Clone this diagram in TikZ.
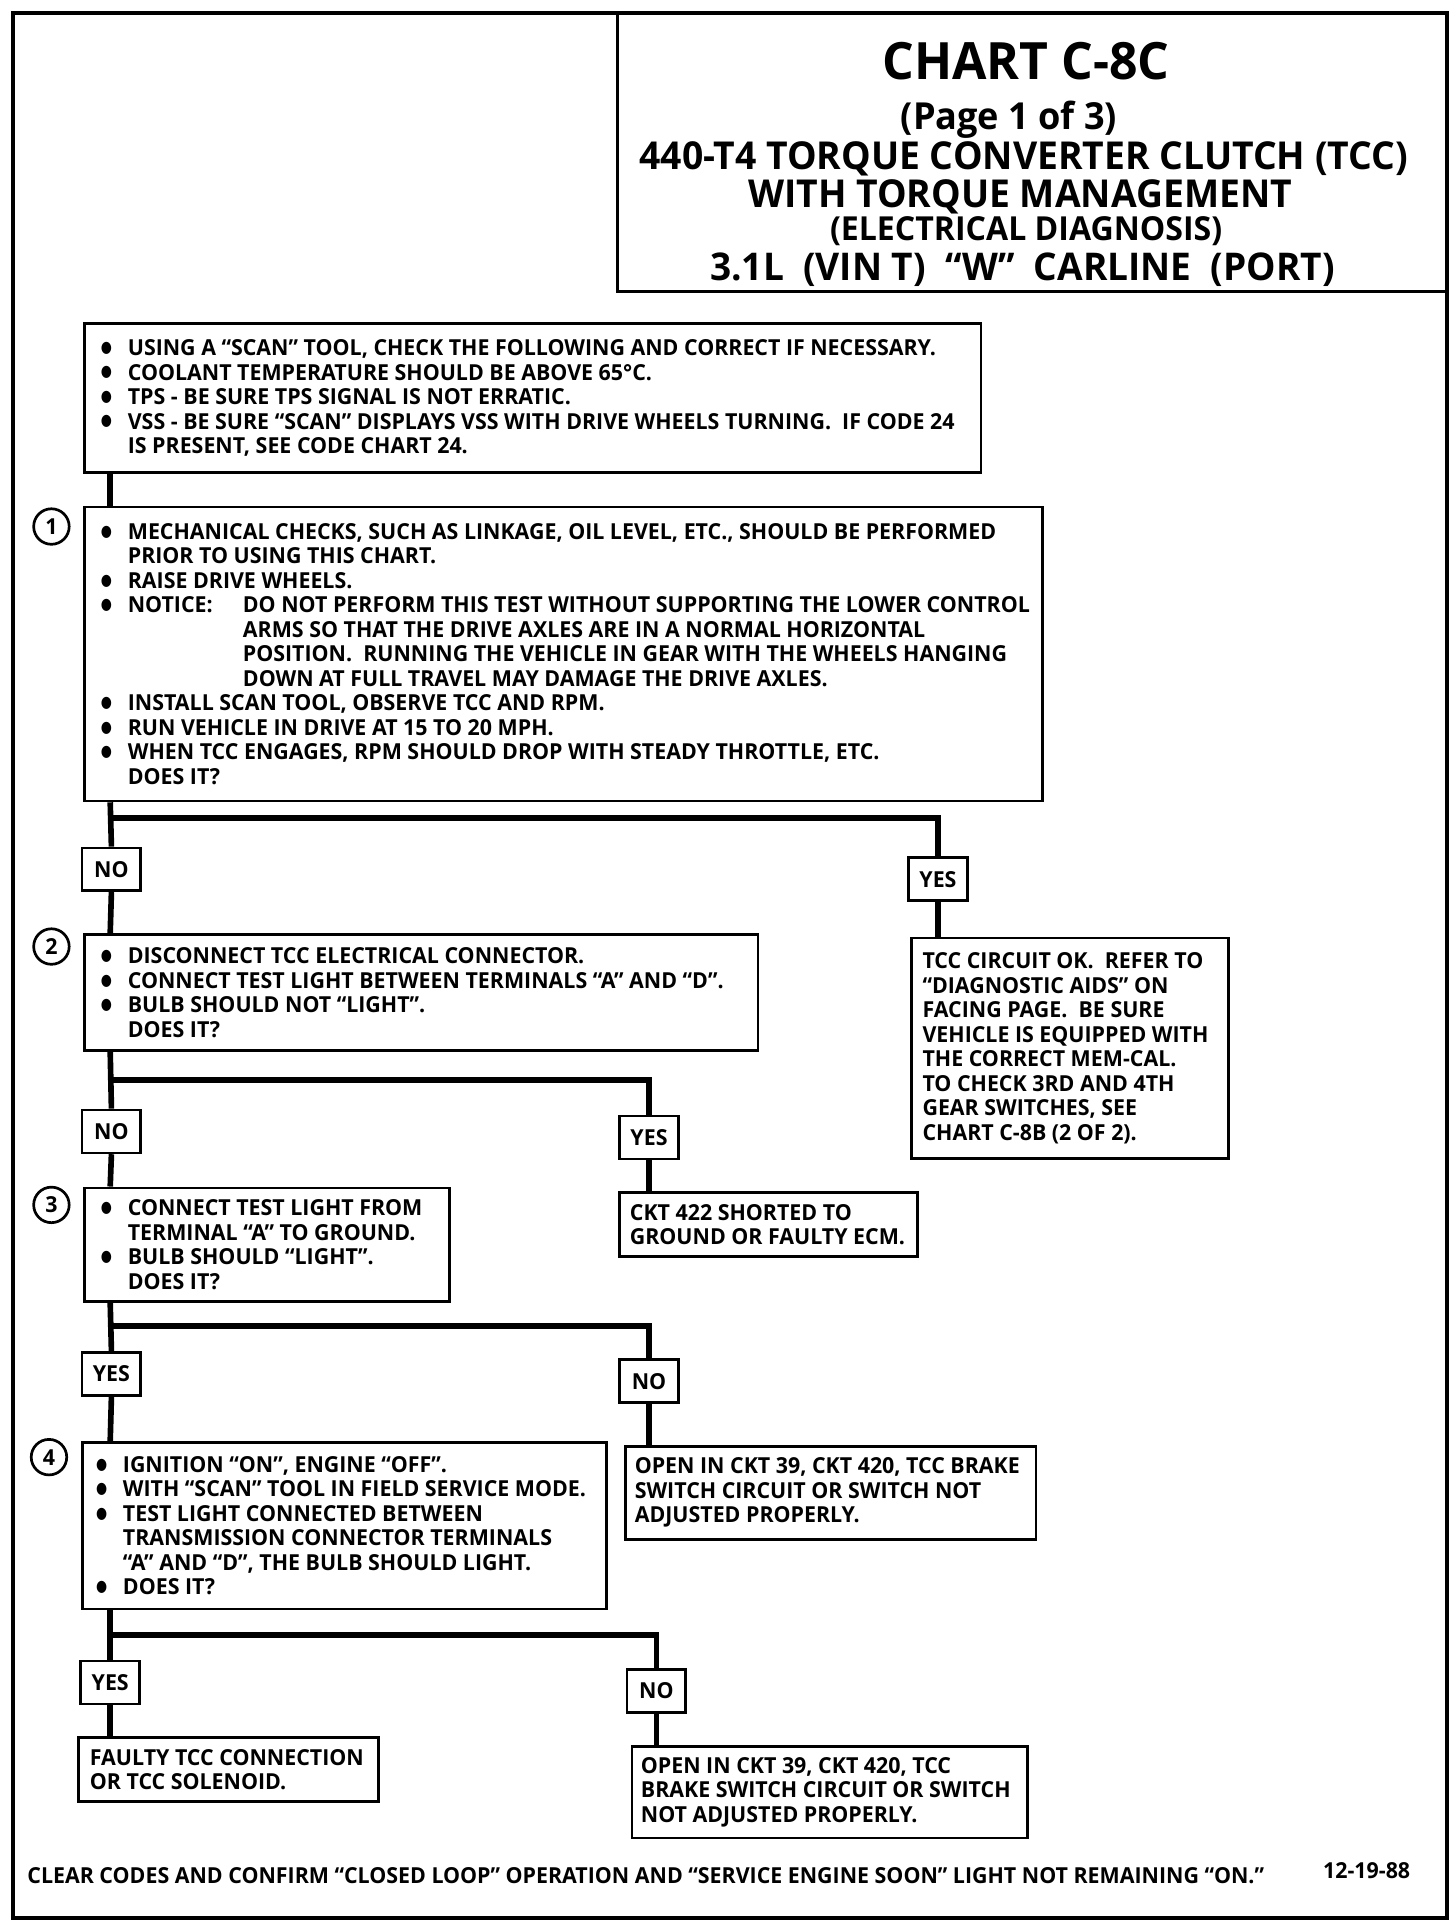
\documentclass[tikz,border=0pt]{standalone}
\usepackage{fontspec}
\setmainfont{Open Sans}[FakeStretch=0.97]
\newfontfamily\dvfont{DejaVu Sans}[FakeStretch=0.8]
\newcommand\body{\bfseries\fontsize{9}{10}\selectfont}
\newcommand\bul{\makebox[11pt][l]{\raisebox{1.3pt}{\dvfont\fontsize{6.5}{10}\selectfont ●}}}
\newcommand\ind{\hspace*{11pt}}
\begin{document}
\begin{tikzpicture}[x=0.5pt,y=-0.5pt,
  frm/.style={draw, line width=1.5pt, anchor=north west, inner sep=0pt},
  box/.style={draw, line width=1.1pt, anchor=north west, inner sep=0pt},
  txt/.style={anchor=west, align=left, inner sep=0pt, font=\body},
  lbl/.style={draw, line width=1.1pt, fill=white, minimum width=24pt, minimum height=17.5pt, inner sep=0pt, font=\body},
  num/.style={circle, draw, line width=1.1pt, minimum size=14.5pt, inner sep=0pt, font=\body},
  conn/.style={line width=2.3pt},
  ttl/.style={anchor=center, inner sep=0pt, font=\bfseries}]
\useasboundingbox (0,0) rectangle (1189,1568);
\node[frm, minimum width=585.5pt, minimum height=778pt] (frame) at (9,9) {};
\node[box, minimum width=338.5pt, minimum height=114pt] (tb) at (503,9) {};
\node[ttl, font=\bfseries\fontsize{21}{21}\selectfont] (t1) at (838,50) {CHART C-8C};
\node[ttl, font=\bfseries\fontsize{15.2}{15.2}\selectfont] (t2) at (824,98) {(Page 1 of 3)};
\node[ttl, font=\bfseries\fontsize{15.7}{15.7}\selectfont] (t3) at (836,130) {440-T4 TORQUE CONVERTER CLUTCH (TCC)};
\node[ttl, font=\bfseries\fontsize{15.7}{15.7}\selectfont] (t4) at (833,161) {WITH TORQUE MANAGEMENT};
\node[ttl, font=\bfseries\fontsize{13.5}{13.5}\selectfont] (t5) at (838,189) {(ELECTRICAL DIAGNOSIS)};
\node[ttl, font=\bfseries\fontsize{15.6}{15.6}\selectfont] (t6) at (835,220) {3.1L\ \ (VIN T)\ \ “W”\ \ CARLINE\ \ (PORT)};

\coordinate (tr) at (90,0);
% box A
\node[box, minimum width=366pt, minimum height=61pt] (bA) at (68,263) {};
\node[txt] (tA) at ([xshift=7pt]bA.west) {\bul USING A “SCAN” TOOL, CHECK THE FOLLOWING AND CORRECT IF NECESSARY.\\
\bul COOLANT TEMPERATURE SHOULD BE ABOVE 65°C.\\
\bul TPS - BE SURE TPS SIGNAL IS NOT ERRATIC.\\
\bul VSS - BE SURE “SCAN” DISPLAYS VSS WITH DRIVE WHEELS TURNING.\ \ IF CODE 24\\
\ind IS PRESENT, SEE CODE CHART 24.};
% box 1
\node[box, minimum width=391pt, minimum height=120pt] (b1) at (68,413) {};
\node[txt] (t1b) at ([xshift=7pt]b1.west) {\bul MECHANICAL CHECKS, SUCH AS LINKAGE, OIL LEVEL, ETC., SHOULD BE PERFORMED\\
\ind PRIOR TO USING THIS CHART.\\
\bul RAISE DRIVE WHEELS.\\
\bul \makebox[47pt][l]{NOTICE:}DO NOT PERFORM THIS TEST WITHOUT SUPPORTING THE LOWER CONTROL\\
\ind\hspace*{47pt}ARMS SO THAT THE DRIVE AXLES ARE IN A NORMAL HORIZONTAL\\
\ind\hspace*{47pt}POSITION.\ \ RUNNING THE VEHICLE IN GEAR WITH THE WHEELS HANGING\\
\ind\hspace*{47pt}DOWN AT FULL TRAVEL MAY DAMAGE THE DRIVE AXLES.\\
\bul INSTALL SCAN TOOL, OBSERVE TCC AND RPM.\\
\bul RUN VEHICLE IN DRIVE AT 15 TO 20 MPH.\\
\bul WHEN TCC ENGAGES, RPM SHOULD DROP WITH STEADY THROTTLE, ETC.\\
\ind DOES IT?};
\node[num] (n1) at (42,430) {1};
\coordinate (j1) at (90,668);
\node[lbl] (no1) at (91,710) {NO};
\node[lbl] (yes1) at (766,718) {YES};
\node[box, minimum width=129.5pt, minimum height=90pt] (bok) at (743,765) {};
\node[txt] (tok) at ([xshift=5pt]bok.west) {TCC CIRCUIT OK.\ \ REFER TO\\
“DIAGNOSTIC AIDS” ON\\
FACING PAGE.\ \ BE SURE\\
VEHICLE IS EQUIPPED WITH\\
THE CORRECT MEM-CAL.\\
TO CHECK 3RD AND 4TH\\
GEAR SWITCHES, SEE\\
CHART C-8B (2 OF 2).};
% box 2
\node[box, minimum width=275pt, minimum height=47.5pt] (b2) at (68,762) {};
\node[txt] (t2b) at ([xshift=7pt]b2.west) {\bul DISCONNECT TCC ELECTRICAL CONNECTOR.\\
\bul CONNECT TEST LIGHT BETWEEN TERMINALS “A” AND “D”.\\
\bul BULB SHOULD NOT “LIGHT”.\\
\ind DOES IT?};
\node[num] (n2) at (42,773) {2};
\coordinate (j2) at (90,882);
\node[lbl] (no2) at (91,924) {NO};
\node[lbl] (yes2) at (530,929) {YES};
\node[box, minimum width=121.5pt, minimum height=26pt] (b422) at (505,973) {};
\node[txt] (t422) at ([xshift=4.5pt]b422.west) {CKT 422 SHORTED TO\\ GROUND OR FAULTY ECM.};
% box 3
\node[box, minimum width=149pt, minimum height=46.5pt] (b3) at (68,969) {};
\node[txt] (t3b) at ([xshift=7pt]b3.west) {\bul CONNECT TEST LIGHT FROM\\
\ind TERMINAL “A” TO GROUND.\\
\bul BULB SHOULD “LIGHT”.\\
\ind DOES IT?};
\node[num] (n3) at (42,984) {3};
\coordinate (j3) at (90,1083);
\node[lbl] (yes3) at (91,1122) {YES};
\node[lbl] (no3) at (530,1128) {NO};
\node[box, minimum width=167.5pt, minimum height=38pt] (bo1) at (510,1180) {};
\node[txt] (to1) at ([xshift=4pt]bo1.west) {OPEN IN CKT 39, CKT 420, TCC BRAKE\\
SWITCH CIRCUIT OR SWITCH NOT\\
ADJUSTED PROPERLY.};
% box 4
\node[box, minimum width=214pt, minimum height=68pt] (b4) at (66,1177) {};
\node[txt] (t4b) at ([xshift=6pt]b4.west) {\bul IGNITION “ON”, ENGINE “OFF”.\\
\bul WITH “SCAN” TOOL IN FIELD SERVICE MODE.\\
\bul TEST LIGHT CONNECTED BETWEEN\\
\ind TRANSMISSION CONNECTOR TERMINALS\\
\ind “A” AND “D”, THE BULB SHOULD LIGHT.\\
\bul DOES IT?};
\node[num] (n4) at (40,1190) {4};
\coordinate (j4) at (90,1335);
\node[lbl] (yes4) at (90,1374) {YES};
\node[lbl] (no4) at (536,1381) {NO};
\node[box, minimum width=122.5pt, minimum height=26pt] (bf) at (63,1418) {};
\node[txt] (tf) at ([xshift=5pt]bf.west) {FAULTY TCC CONNECTION\\ OR TCC SOLENOID.};
\node[box, minimum width=161.5pt, minimum height=37.5pt] (bo2) at (515,1425) {};
\node[txt] (to2) at ([xshift=4pt]bo2.west) {OPEN IN CKT 39, CKT 420, TCC\\
BRAKE SWITCH CIRCUIT OR SWITCH\\
NOT ADJUSTED PROPERLY.};
% footer
\node[txt] (foot) at (22,1532) {CLEAR CODES AND CONFIRM “CLOSED LOOP” OPERATION AND “SERVICE ENGINE SOON” LIGHT NOT REMAINING “ON.”};
\node[txt, anchor=east] (date) at (1152,1528) {12-19-88};

% connectors
\draw[conn] (tr |- bA.south) -- (tr |- b1.north);
\draw[conn] (tr |- b1.south) -- (no1.north);
\draw[conn] (no1.south) -- (tr |- b2.north);
\draw[conn] (j1) -| (yes1.north);
\draw[conn] (yes1.south) -- (yes1 |- bok.north);
\draw[conn] (tr |- b2.south) -- (no2.north);
\draw[conn] (no2.south) -- (tr |- b3.north);
\draw[conn] (j2) -| (yes2.north);
\draw[conn] (yes2.south) -- (yes2 |- b422.north);
\draw[conn] (tr |- b3.south) -- (yes3.north);
\draw[conn] (yes3.south) -- (tr |- b4.north);
\draw[conn] (j3) -| (no3.north);
\draw[conn] (no3.south) -- (no3 |- bo1.north);
\draw[conn] (tr |- b4.south) -- (yes4.north);
\draw[conn] (yes4.south) -- (yes4 |- bf.north);
\draw[conn] (j4) -| (no4.north);
\draw[conn] (no4.south) -- (no4 |- bo2.north);
\end{tikzpicture}
\end{document}
